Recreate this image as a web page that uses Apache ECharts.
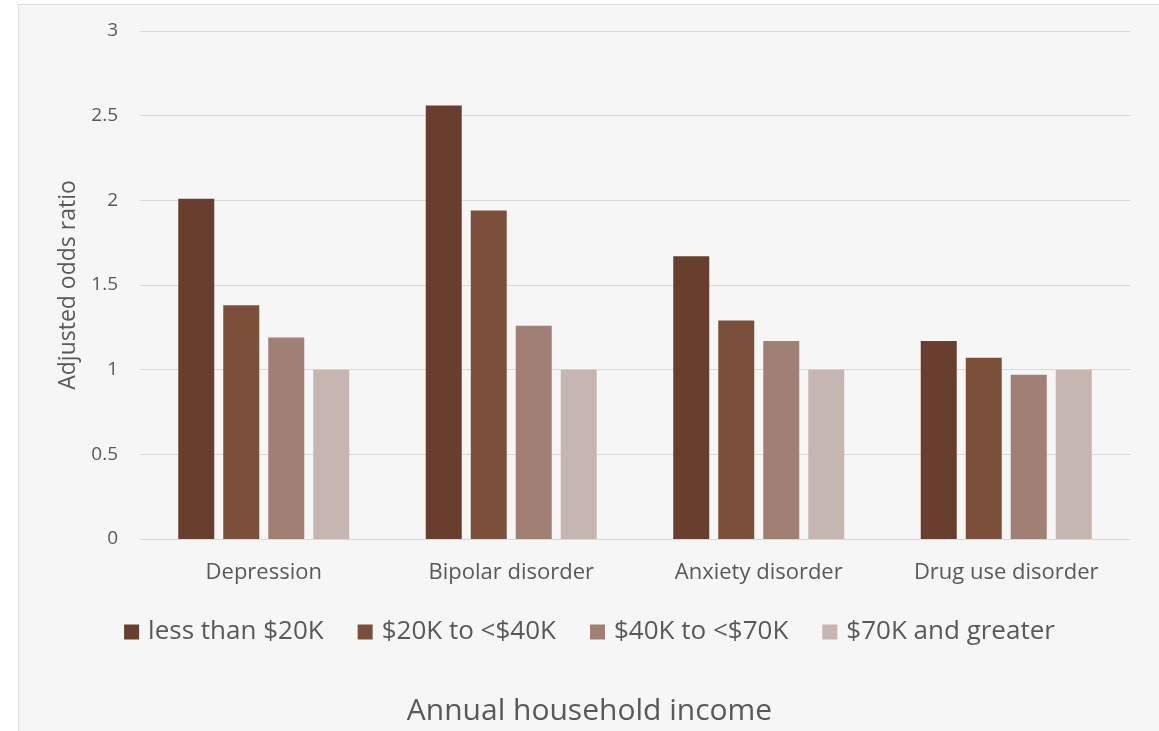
<!DOCTYPE html>
<html>
<head>
<meta charset="utf-8">
<script src="https://cdn.jsdelivr.net/npm/echarts@6/dist/echarts.min.js"></script>
<style>
  html, body { margin: 0; padding: 0; background: #fff; }
  #wrap { position: absolute; left: 18px; top: 4px; width: 1141px; height: 727px;
          background: #f6f6f6; border-left: 1px solid #dedede; border-top: 1px solid #dedede; }
  #main { width: 1141px; height: 727px; }
</style>
</head>
<body>
<div id="wrap"><div id="main"></div></div>
<script>
var categories = ['Depression', 'Bipolar disorder', 'Anxiety disorder', 'Drug use disorder'];
var incomeGroups = ['less than $20K', '$20K to <$40K', '$40K to <$70K', '$70K and greater'];
var lessThan20K = [2.01, 2.56, 1.67, 1.17];
var from20Kto40K = [1.38, 1.94, 1.29, 1.07];
var from40Kto70K = [1.19, 1.26, 1.17, 0.97];
var over70K = [1.00, 1.00, 1.00, 1.00];
var yTicks = [0, 0.5, 1, 1.5, 2, 2.5, 3];

var colors = ['#683f2e', '#7c4f3b', '#a08075', '#c6b6b2'];
var seriesData = [lessThan20K, from20Kto40K, from40Kto70K, over70K];
var font = '"Open Sans", sans-serif';

var myChart = echarts.init(document.getElementById('main'));
var option = {
    backgroundColor: 'transparent',
    animation: false,
    color: colors,
    // x axis title is centred on the whole chart, not on the plot
    title: {
        text: 'Annual household income',
        left: 'center',
        top: 686,
        textStyle: { color: '#595959', fontSize: 30, fontWeight: 'normal', fontFamily: font }
    },
    grid: {
        left: 121,
        top: 26,
        width: 990,
        height: 508
    },
    legend: {
        data: incomeGroups,
        left: 'center',
        top: 609,
        itemWidth: 15,
        itemHeight: 15,
        itemGap: 34,
        icon: 'rect',
        textStyle: { color: '#595959', fontSize: 26, fontFamily: font, padding: [0, 0, 0, 4] }
    },
    xAxis: {
        type: 'category',
        data: categories,
        axisTick: { show: false },
        axisLine: { show: true, lineStyle: { color: '#d9d9d9', width: 1 } },
        axisLabel: { color: '#595959', fontSize: 22, fontFamily: font, margin: 23 }
    },
    yAxis: {
        type: 'value',
        min: yTicks[0],
        max: yTicks[yTicks.length - 1],
        interval: 0.5,
        name: 'Adjusted odds ratio',
        nameLocation: 'middle',
        nameGap: 60,
        nameTextStyle: { color: '#595959', fontSize: 23, fontFamily: font },
        axisLine: { show: false },
        axisTick: { show: false },
        splitLine: { lineStyle: { color: '#d9d9d9', width: 1 } },
        axisLabel: { color: '#595959', fontSize: 19, fontFamily: font, margin: 22 }
    },
    series: seriesData.map(function (d, i) {
        return {
            name: incomeGroups[i],
            type: 'bar',
            barWidth: 36,
            barGap: '25%',
            data: d,
            itemStyle: { color: colors[i] }
        };
    })
};
myChart.setOption(option);
</script>
</body>
</html>
